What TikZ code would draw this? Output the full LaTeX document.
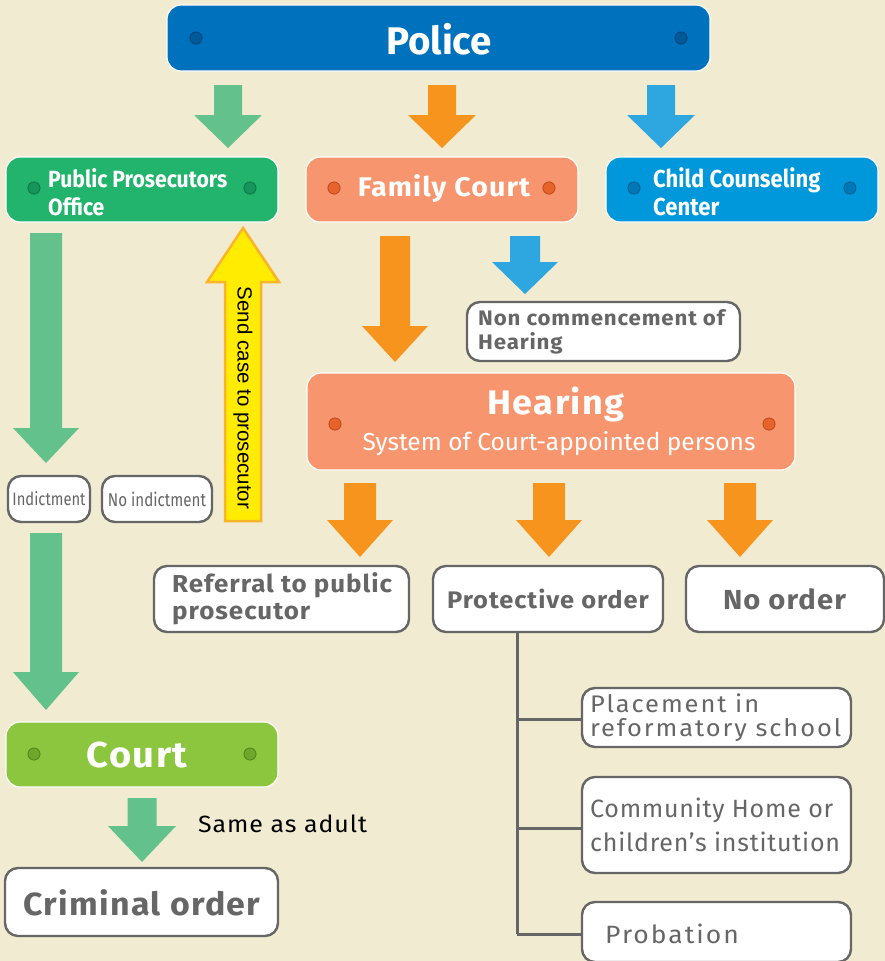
\documentclass[tikz,border=0pt]{standalone}
\usepackage{fontspec}
\setmainfont{Fira Sans}
\newfontfamily\condf[FakeStretch=0.82]{Fira Sans}
\newfontfamily\condb[FakeStretch=0.9]{Fira Sans}
\newfontfamily\widef[FakeStretch=1.06, LetterSpace=4]{Fira Sans}
\newfontfamily\widerf[FakeStretch=1.06, LetterSpace=8]{Fira Sans}
\newfontfamily\lsA[LetterSpace=3]{Fira Sans}
\newfontfamily\arialf{Liberation Sans}
\definecolor{bg}{HTML}{F1EBD1}
\definecolor{policeblue}{HTML}{0071BC}
\definecolor{ppogreen}{HTML}{22B36D}
\definecolor{famsalmon}{HTML}{F7966E}
\definecolor{cccblue}{HTML}{0098DA}
\definecolor{courtgreen}{HTML}{8CC63F}
\definecolor{arrgreen}{HTML}{63C18C}
\definecolor{arrorange}{HTML}{F7941D}
\definecolor{arrblue}{HTML}{2EA6DF}
\definecolor{yfill}{HTML}{FFEC00}
\definecolor{yline}{HTML}{F8B52A}
\definecolor{greyline}{HTML}{666666}
\definecolor{dotblue}{HTML}{005A9A}
\definecolor{dotgreen}{HTML}{14955A}
\definecolor{dotorange}{HTML}{E8632C}
\definecolor{dotcyan}{HTML}{0078B8}
\definecolor{dotlime}{HTML}{6DA82A}
\newcommand\dnarrow[7]{%
  \fill[#7] ({#1-#5},#2) -- ({#1+#5},#2) -- ({#1+#5},#3) -- ({#1+#6},#3) -- (#1,#4) -- ({#1-#6},#3) -- ({#1-#5},#3) -- cycle;}
\newcommand\bdot[3]{\fill[#3] (#1,#2) circle (6.5); \draw[#3!80!black, line width=0.8pt] (#1,#2) circle (6);}
\tikzset{
  colbox/.style={rounded corners=14pt, draw=white, line width=1.2pt, inner sep=0pt},
  wbox/.style={rounded corners=13pt, draw=greyline, line width=2.4pt, fill=white, inner sep=0pt},
  wtext/.style={text=white, inner sep=0pt},
  gtext/.style={text=greyline, inner sep=0pt},
  tree/.style={draw=greyline, line width=3pt}
}
\begin{document}
\begin{tikzpicture}[x=1pt,y=-1pt]
\fill[bg] (0,0) rectangle (885,961);
\useasboundingbox (0,0) rectangle (885,961);

% colored boxes
\node[colbox, fill=policeblue, minimum width=543pt, minimum height=66pt] (police) at (438.5,38) {};
\node[wtext, font=\bfseries\fontsize{38.5}{42}\selectfont] (policet) at (439,39) {Police};
\bdot{196}{38}{dotblue}\bdot{681}{38}{dotblue}

\node[colbox, fill=ppogreen, minimum width=272pt, minimum height=65pt] (ppo) at (142,189.5) {};
\node[wtext, anchor=west, align=left, font=\condb\bfseries\fontsize{23.5}{28}\selectfont] (ppot) at (48,192) {Public Prosecutors\\Office};
\bdot{34}{188}{dotgreen}\bdot{250}{188}{dotgreen}

\node[colbox, fill=famsalmon, minimum width=272pt, minimum height=65pt] (fc) at (442,189.5) {};
\node[wtext, font=\widef\bfseries\fontsize{27}{30}\selectfont] (fct) at (444,189) {Family Court};
\bdot{334}{188}{dotorange}\bdot{549}{188}{dotorange}

\node[colbox, fill=cccblue, minimum width=272pt, minimum height=65pt] (ccc) at (742,189.5) {};
\node[wtext, anchor=west, align=left, font=\condb\bfseries\fontsize{24.5}{28}\selectfont] (ccct) at (653,192) {Child Counseling\\Center};
\bdot{634}{188}{dotcyan}\bdot{850}{188}{dotcyan}

\node[colbox, fill=famsalmon, minimum width=488pt, minimum height=97pt] (hear) at (551,421.5) {};
\node[wtext, font=\widef\bfseries\fontsize{34}{40}\selectfont] (heart) at (556,404) {Hearing};
\node[wtext, font=\fontsize{24.5}{30}\selectfont] (hears) at (559,444) {System of Court-appointed persons};
\bdot{335}{424}{dotorange}\bdot{769}{424}{dotorange}

\node[colbox, fill=courtgreen, minimum width=272pt, minimum height=65pt] (court) at (142,754.5) {};
\node[wtext, font=\widef\bfseries\fontsize{36}{40}\selectfont] (courtt) at (137,755) {Court};
\bdot{34}{754}{dotlime}\bdot{250}{754}{dotlime}

% white boxes
\node[wbox, minimum width=82pt, minimum height=46pt] (ind) at (49,499) {};
\node[gtext, font=\condf\fontsize{18}{20}\selectfont] (indt) at (49,499) {Indictment};
\node[wbox, minimum width=110pt, minimum height=46pt] (noind) at (157,499) {};
\node[gtext, font=\condf\fontsize{18.5}{20}\selectfont] (noindt) at (157,499) {No indictment};

\node[wbox, minimum width=273pt, minimum height=59pt] (nonc) at (603.5,331.5) {};
\node[gtext, anchor=west, align=left, font=\widef\bfseries\fontsize{21}{24}\selectfont] (nonct) at (478,332) {Non commencement of\\Hearing};

\node[wbox, minimum width=255pt, minimum height=66pt] (ref) at (281.5,599) {};
\node[gtext, anchor=west, align=left, font=\widef\bfseries\fontsize{24.5}{27}\selectfont] (reft) at (172,599) {Referral to public\\prosecutor};
\node[wbox, minimum width=230pt, minimum height=66pt] (prot) at (548,599) {};
\node[gtext, font=\widef\bfseries\fontsize{24}{28}\selectfont] (prott) at (548,599) {Protective order};
\node[wbox, minimum width=198pt, minimum height=66pt] (noord) at (785,599) {};
\node[gtext, font=\widef\bfseries\fontsize{27.5}{30}\selectfont] (noordt) at (784.5,599) {No order};

\node[wbox, minimum width=269pt, minimum height=59pt] (place) at (716.5,717.5) {};
\node[gtext, anchor=west, align=left, font=\widerf\fontsize{24}{24}\selectfont] (placet) at (590,718) {Placement in\\reformatory school};
\node[wbox, minimum width=269pt, minimum height=96pt] (comm) at (716.5,825) {};
\node[gtext, anchor=west, align=left, font=\lsA\fontsize{25}{34}\selectfont] (commt) at (590,825) {Community Home or\\children’s institution};
\node[wbox, minimum width=269pt, minimum height=60pt] (prob) at (716.5,932) {};
\node[gtext, anchor=west, font=\widerf\fontsize{25}{30}\selectfont] (probt) at (605,934) {Probation};

\node[wbox, minimum width=273pt, minimum height=68pt] (crim) at (141.5,902) {};
\node[gtext, font=\widef\bfseries\fontsize{32}{36}\selectfont] (crimt) at (142,903) {Criminal order};

\node[text=black, anchor=west, inner sep=0pt, font=\widef\fontsize{23.5}{26}\selectfont] (same) at (198,824) {Same as adult};

% tree
\coordinate (tr) at (517,632);
\draw[tree] (tr) -- (517,934);
\draw[tree] (517,719) -- (place.west |- 0,719);
\draw[tree] (517,828) -- (comm.west |- 0,828);
\draw[tree] (517,934) -- (prob.west |- 0,934);

% block arrows
\dnarrow{228}{85}{115}{148}{14}{34}{arrgreen}
\dnarrow{442}{85}{115}{148}{14}{34}{arrorange}
\dnarrow{661}{85}{115}{148}{14}{34}{arrblue}
\dnarrow{46}{233}{428}{463}{16}{33}{arrgreen}
\dnarrow{46}{533}{672}{710}{16}{33}{arrgreen}
\dnarrow{142}{798}{826}{862}{14.5}{34}{arrgreen}
\dnarrow{395}{236}{326}{362}{15}{33}{arrorange}
\dnarrow{525}{236}{262}{294}{15}{33}{arrblue}
\dnarrow{360}{483}{520}{557}{16}{33}{arrorange}
\dnarrow{549}{483}{520}{557}{16}{33}{arrorange}
\dnarrow{740}{483}{520}{557}{16}{33}{arrorange}

% yellow up arrow
\filldraw[fill=yfill, draw=yline, line width=2.5pt, line join=miter]
  (225,521) -- (261,521) -- (261,282) -- (279,282) -- (243,228) -- (207,282) -- (225,282) -- cycle;
\node[rotate=-90, inner sep=0pt, font=\arialf\fontsize{20.5}{22}\selectfont] (sendt) at (243,398) {Send case to prosecutor};
\end{tikzpicture}
\end{document}
